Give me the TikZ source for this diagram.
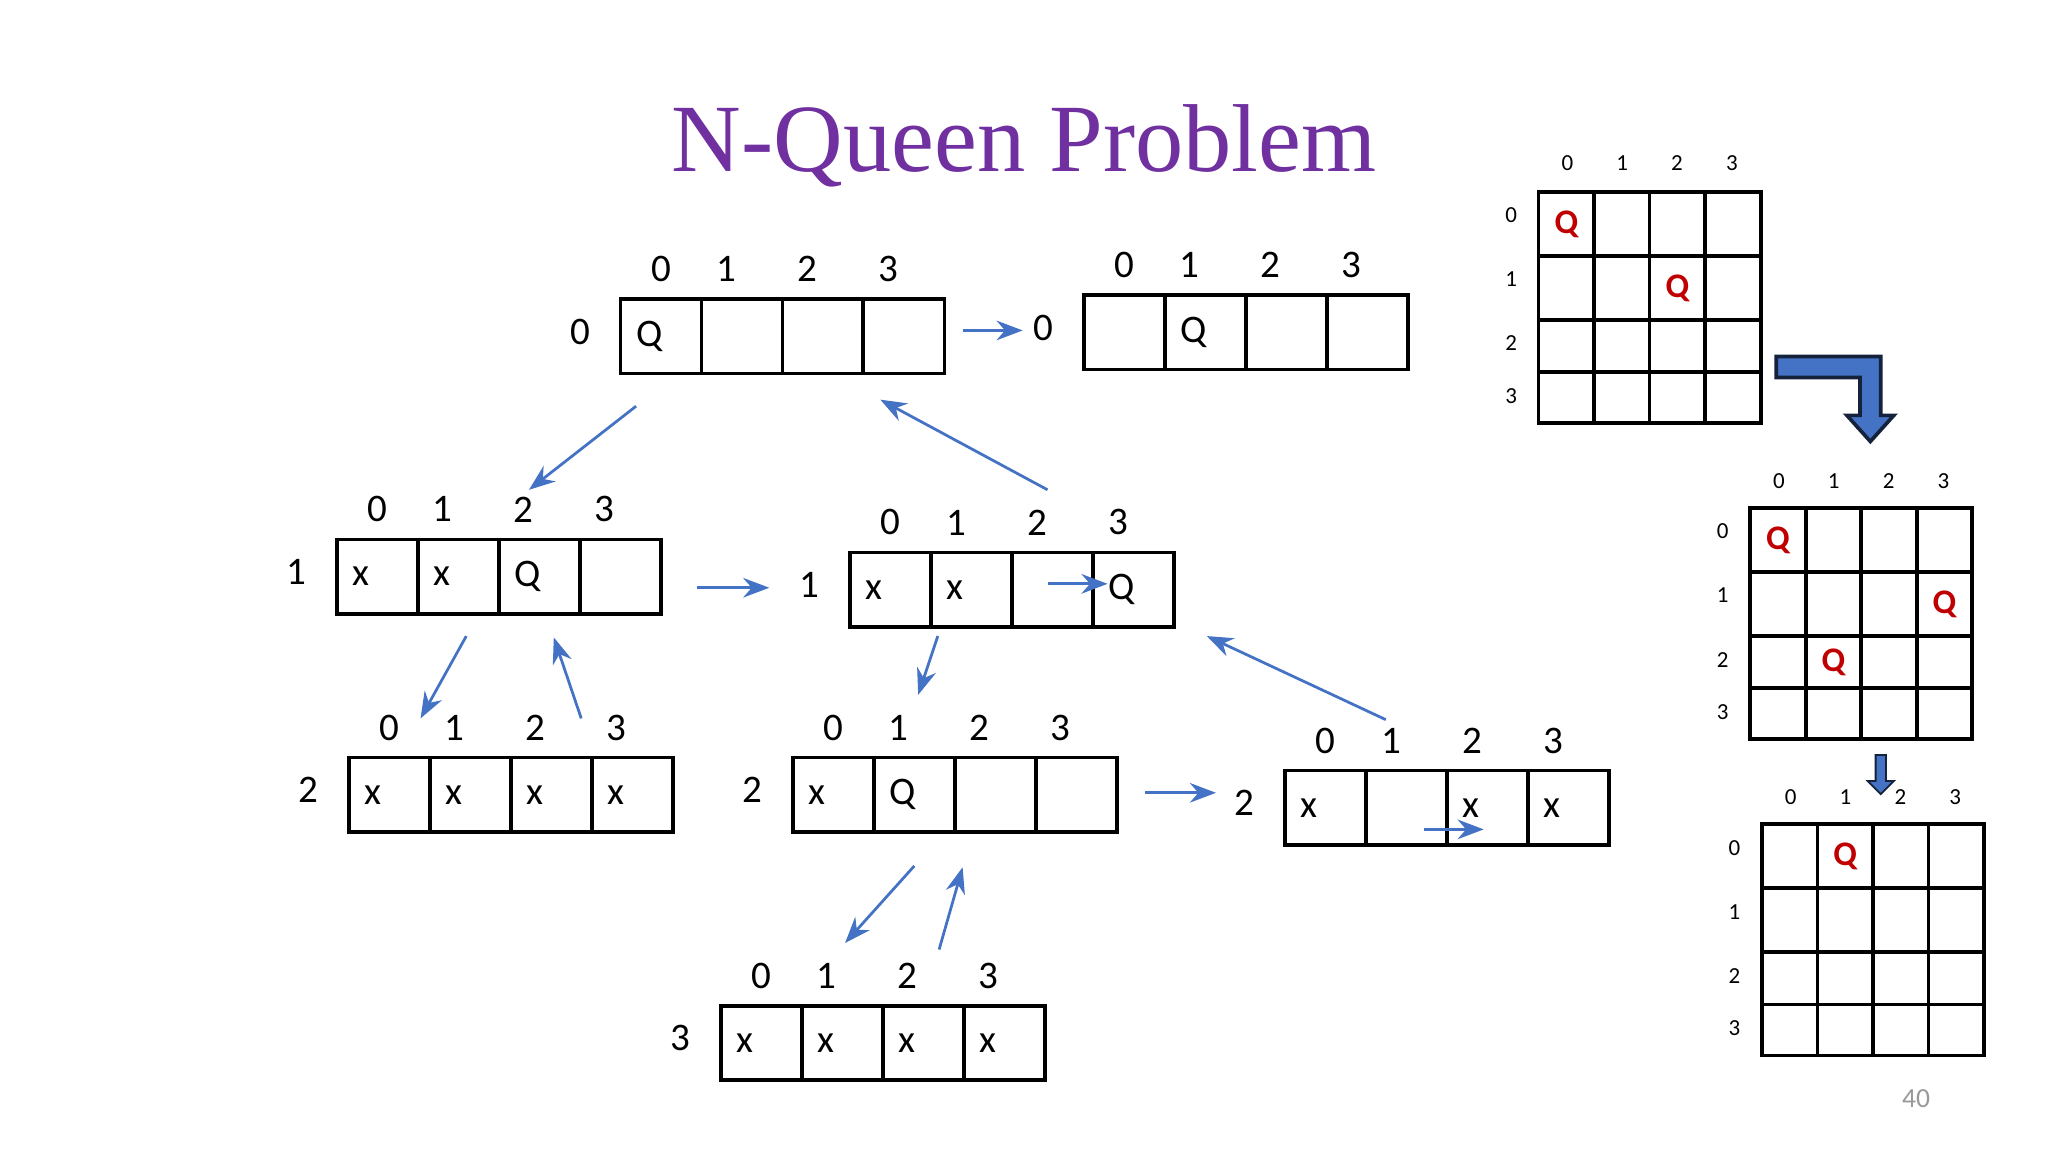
\documentclass[tikz,border=0pt]{standalone}
\usepackage{fontspec}
\setmainfont{Carlito}
\newfontfamily\titlefont{Liberation Serif}
\usetikzlibrary{arrows.meta,positioning,calc}
\definecolor{qblue}{RGB}{68,114,196}
\definecolor{qpurple}{RGB}{112,48,160}
\definecolor{qred}{RGB}{192,0,0}
\tikzset{
	cell/.style={draw,thick,minimum width=.62cm,minimum height=.57cm,inner sep=0,
		text width=.38cm,align=left,font=\fontsize{8.5}{9}\selectfont},
	num/.style={font=\fontsize{8.5}{9}\selectfont,inner sep=0},
	small num/.style={font=\fontsize{5}{6}\selectfont,inner sep=0},
	move/.style={-{Stealth[length=2mm,width=1.5mm]},qblue,semithick},
	queen/.style={font=\bfseries\fontsize{7.5}{8}\selectfont,text=qred,inner sep=0}
}
\begin{document}
\begin{tikzpicture}[x=0.01cm,y=-0.01cm]
	\useasboundingbox (0,0) rectangle (1568,882);
	\node[text=qpurple,font=\titlefont\fontsize{21}{24}\selectfont] (title) at (784,112) {N-Queen Problem};
	\node[text=black!40,font=\fontsize{6}{7}\selectfont] (page) at (1467,841) {40};

	% rows of the search tree: name/left/top/row label/cells
	\foreach \nm/\xl/\yt/\lab/\cs in {
		ra/475/229/0/{Q,,,},
		rb/830/226/0/{,Q,,},
		rc/258/413/1/{x,x,Q,},
		rd/651/423/1/{x,x,,Q},
		re/267/580/2/{x,x,x,x},
		rf/607/580/2/{x,Q,,},
		rg/984/590/2/{x,,x,x},
		rh/552/770/3/{x,x,x,x}}{
		\node[num] (\nm-l) at (\xl-31,\yt+25) {\lab};
		\foreach \c [count=\i from 0] in \cs {
			\node[cell] (\nm-\i) at (\xl+31+62*\i,\yt+28.5) {\c};
		}
		\node[num] (\nm-h0) at (\xl+31,\yt-23) {0};
		\node[num] (\nm-h1) at (\xl+81,\yt-23) {1};
		\node[num] (\nm-h2) at (\xl+143,\yt-23) {2};
		\node[num] (\nm-h3) at (\xl+205,\yt-23) {3};
	}

	% arrows between the rows
	\coordinate (a1) at (737,253); \coordinate (a2) at (783,253);
	\coordinate (b1) at (487,311); \coordinate (b2) at (405,375);
	\coordinate (c1) at (802,375); \coordinate (c2) at (674,306);
	\coordinate (d1) at (534,450); \coordinate (d2) at (589,450);
	\coordinate (e1) at (802,447); \coordinate (e2) at (848,447);
	\coordinate (f1) at (357,487); \coordinate (f2) at (322,550);
	\coordinate (g1) at (445,550); \coordinate (g2) at (424,488);
	\coordinate (h1) at (718,487); \coordinate (h2) at (703,532);
	\coordinate (i1) at (1061,551); \coordinate (i2) at (924,487);
	\coordinate (j1) at (877,607); \coordinate (j2) at (931,607);
	\coordinate (k1) at (1090,635); \coordinate (k2) at (1136,635);
	\coordinate (m1) at (700,663); \coordinate (m2) at (647,722);
	\coordinate (n1) at (719,727); \coordinate (n2) at (737,664);
	\foreach \p in {a,b,c,d,e,f,g,h,i,j,k,m,n}
		\draw[move] (\p1) -- (\p2);

	% boards: name/left/top/column label y/row label x/queens
	\foreach \bn/\bx/\by/\cy/\rx/\qs in {
		ga/1178/147/125/1157/{0/0,1/2},
		gb/1340/389/368/1319/{0/0,1/3,2/1},
		gc/1349/631/610/1328/{0/1}}{
		\foreach \r/\ry/\rh in {0/0/49,1/49/49,2/98/40,3/138/39}{
			\node[small num] (\bn-r\r) at (\rx,\by+\ry+18) {\r};
			\foreach \k in {0,1,2,3}
				\node[draw,thick,minimum width=.425cm,minimum height={\rh*0.01cm},inner sep=0]
					(\bn-\r\k) at (\bx+21.25+42.5*\k,\by+\ry+\rh/2) {};
		}
		\foreach \k in {0,1,2,3}
			\node[small num] (\bn-c\k) at (\bx+22+42*\k,\cy) {\k};
		\foreach \qr/\qc in \qs
			\node[queen] at (\bn-\qr\qc) {Q};
	}

	% arrows between the boards
	\draw[draw=black!70!qblue,fill=qblue,thick]
		(1360,273) -- (1440,273) -- (1440,318) -- (1450,318) -- (1432,338)
		-- (1414,318) -- (1424,318) -- (1424,289) -- (1360,289) -- cycle;
	\draw[draw=black!70!qblue,fill=qblue]
		(1436,578) -- (1444,578) -- (1444,598) -- (1450,598) -- (1440,608)
		-- (1430,598) -- (1436,598) -- cycle;
\end{tikzpicture}
\end{document}
